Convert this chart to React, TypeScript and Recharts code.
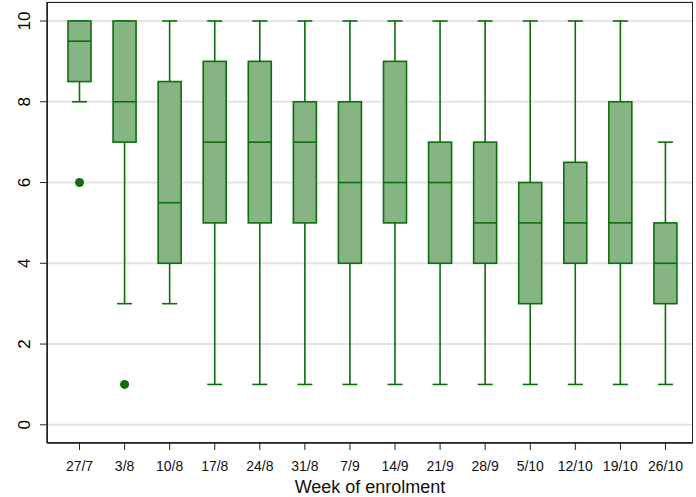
import React from 'react'
import { ComposedChart, Bar, Scatter, XAxis, YAxis, CartesianGrid, Label } from 'recharts'

const weeks = ['27/7', '3/8', '10/8', '17/8', '24/8', '31/8', '7/9', '14/9', '21/9', '28/9', '5/10', '12/10', '19/10', '26/10']
const mins = [8, 3, 3, 1, 1, 1, 1, 1, 1, 1, 1, 1, 1, 1]
const q1s = [8.5, 7, 4, 5, 5, 5, 4, 5, 4, 4, 3, 4, 4, 3]
const medians = [9.5, 8, 5.5, 7, 7, 7, 6, 6, 6, 5, 5, 5, 5, 4]
const q3s = [10, 10, 8.5, 9, 9, 8, 8, 9, 7, 7, 6, 6.5, 8, 5]
const maxs = [10, 10, 10, 10, 10, 10, 10, 10, 10, 10, 10, 10, 10, 7]
const outliers: (number | null)[] = [6, 1, null, null, null, null, null, null, null, null, null, null, null, null]
const yTicks = [0, 2, 4, 6, 8, 10]

const data = weeks.map((week, i) => ({
	week,
	range: [mins[i], maxs[i]],
	min: mins[i],
	q1: q1s[i],
	median: medians[i],
	q3: q3s[i],
	max: maxs[i],
	outlier: outliers[i],
}))

const FILL = '#86b583'
const STROKE = '#0c6e0c'
const FONT = 'Liberation Sans, Arial, sans-serif'

// whole box plot drawn from the min..max range bar
const BoxShape = (props: any) => {
	const { x, y, width, height, payload } = props
	const { min, q1, median, q3, max } = payload
	const span = max - min
	const py = (v: number) => (span === 0 ? y : y + (height * (max - v)) / span)
	const cx = x + width / 2
	const bw = 23
	const cw = 15
	return (
		<g>
			<line x1={cx} x2={cx} y1={py(max)} y2={py(q3)} stroke={STROKE} strokeWidth={1.6} />
			<line x1={cx} x2={cx} y1={py(q1)} y2={py(min)} stroke={STROKE} strokeWidth={1.6} />
			<line x1={cx - cw / 2} x2={cx + cw / 2} y1={py(max)} y2={py(max)} stroke={STROKE} strokeWidth={1.6} />
			<line x1={cx - cw / 2} x2={cx + cw / 2} y1={py(min)} y2={py(min)} stroke={STROKE} strokeWidth={1.6} />
			<rect x={cx - bw / 2} y={py(q3)} width={bw} height={py(q1) - py(q3)} fill={FILL} stroke={STROKE} strokeWidth={1.6} />
			<line x1={cx - bw / 2} x2={cx + bw / 2} y1={py(median)} y2={py(median)} stroke={STROKE} strokeWidth={1.6} />
		</g>
	)
}

const YTick = (props: any) => {
	const { x, y, payload } = props
	return (
		<text x={x - 8} y={y} transform={`rotate(-90 ${x - 8} ${y})`} textAnchor="middle" fontSize={17} fill="#000" fontFamily={FONT}>
			{payload.value}
		</text>
	)
}

const Dot = (p: any) => (p.payload.outlier == null ? <g /> : <circle cx={p.cx} cy={p.cy} r={4.5} fill={STROKE} />)

export default () => (
	<div style={{ position: 'absolute', left: 0, top: 0, width: 696, height: 497 }}>
		<ComposedChart width={696} height={497} data={data} margin={{ top: 2, right: 3, left: 0, bottom: 0 }} barCategoryGap={0}>
			<CartesianGrid vertical={false} stroke="#e4e4e4" strokeWidth={2} />
			<XAxis
				dataKey="week"
				padding={{ left: 10, right: 5 }}
				height={54}
				axisLine={{ stroke: '#222', strokeWidth: 1.5 }}
				tickLine={{ stroke: '#222' }}
				tickSize={7}
				interval={0}
				tick={{ fontSize: 14, fill: '#111', fontFamily: FONT, dy: 9 }}
			>
				<Label value="Week of enrolment" position="insideBottom" offset={4} style={{ fontSize: 18, fill: '#111', fontFamily: FONT }} />
			</XAxis>
			<YAxis
				domain={[-0.45, 10.47]}
				ticks={yTicks}
				width={47}
				axisLine={{ stroke: '#222', strokeWidth: 1.5 }}
				tickLine={{ stroke: '#222' }}
				tickSize={7}
				tick={<YTick />}
				allowDataOverflow
			/>
			<Bar dataKey="range" shape={<BoxShape />} isAnimationActive={false} />
			<Scatter dataKey="outlier" isAnimationActive={false} shape={Dot} />
		</ComposedChart>
		{/* plot frame */}
		<div style={{ position: 'absolute', left: 47, top: 2, width: 646, height: 441, boxSizing: 'border-box', border: '1.5px solid #222', pointerEvents: 'none' }} />
	</div>
)
